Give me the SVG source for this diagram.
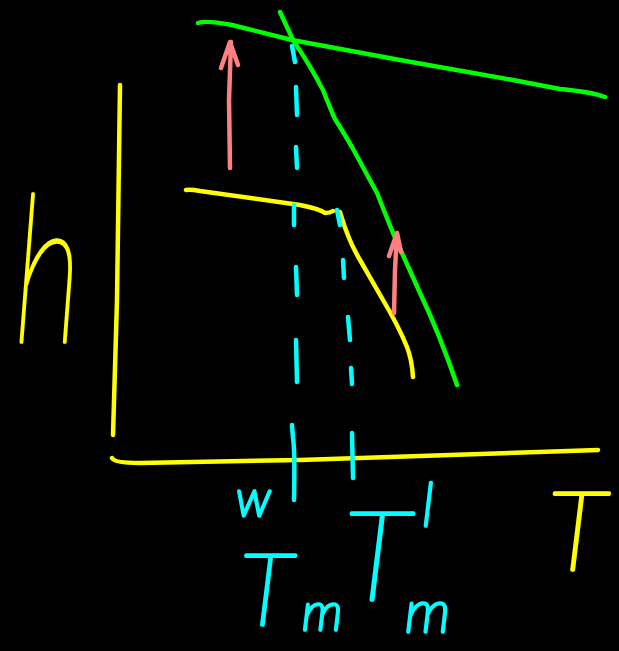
<svg xmlns="http://www.w3.org/2000/svg" width="619" height="651" viewBox="0 0 619 651">
<style>
.ln{fill:none;stroke-width:4.5;stroke-linecap:round;stroke-linejoin:round}
.y{stroke:#ffff00}.g{stroke:#00ff00}.c{stroke:#00ffff}.r{stroke:#ff8080}
.lab{font-family:Lato,"DejaVu Sans",sans-serif;font-weight:100;font-style:italic;stroke-width:3.5;stroke-linejoin:round;stroke-linecap:round}
.ly{fill:#ffff00;stroke:#ffff00}.lc{fill:#00ffff;stroke:#00ffff}
</style>
<rect width="619" height="651" fill="#000"/>
<g id="axes">
<path class="ln y" d="M120,85 L117,300 L113,435"/>
<path class="ln y" d="M112,458 Q114,463 140,463 L300,460 L598,450"/>
</g>
<g id="curves">
<path class="ln g" d="M198,23 Q205,20 232,25 L292,40 L400,60 L513,80 L560,89 Q592,92 605,97"/>
<path class="ln g" d="M280,12 L293,40 Q310,65 323,90 Q330,108 335,119 Q345,135 352,147 L377,193 L393,233 L420,293 Q440,335 457,385"/>
<path class="ln y" d="M186,190 Q190,189 200,191 L300,205 Q320,209 325,213 Q330,213 333,211"/>
<path class="ln y" d="M340,212 Q348,240 360,260 L383,300 Q398,325 407,347 Q412,360 413,377"/>
</g>
<g id="connectors">
<path class="ln c" d="M292,46 L295,62 M296,87 L297,115 M296,147 L297,168 M294,205 L294,225 M296,267 L297,295 M296,340 L297,382 M292,425 L293,438 Q295,450 294,500"/>
<path class="ln c" d="M337,210 L340,225 M343,260 L344,278 M348,317 L350,340 M351,368 L352,384 M352,433 L353,478"/>
<path class="ln r" d="M230,168 L229,100 L231,42 M221,68 L230,42 L238,65"/>
<path class="ln r" d="M394,313 L395,270 L397,233 M389,256 L397,233 L401,252"/>
</g>
<g id="labels">
<text class="lab ly" x="14" y="342" font-size="205" transform="translate(14,342) scale(0.65,1) translate(-14,-342)">h</text>
<text class="lab ly" x="548" y="570" font-size="110">T</text>
<text class="lab lc" x="236" y="516" font-size="50">w</text>
<text class="lab lc" x="240" y="625" font-size="100">T</text>
<text class="lab lc" x="302" y="630" font-size="52">m</text>
<text class="lab lc" x="344" y="600" font-size="125">T</text>
<text class="lab lc" x="422" y="526" font-size="60">l</text>
<text class="lab lc" x="405" y="632" font-size="58">m</text>
</g>
</svg>
